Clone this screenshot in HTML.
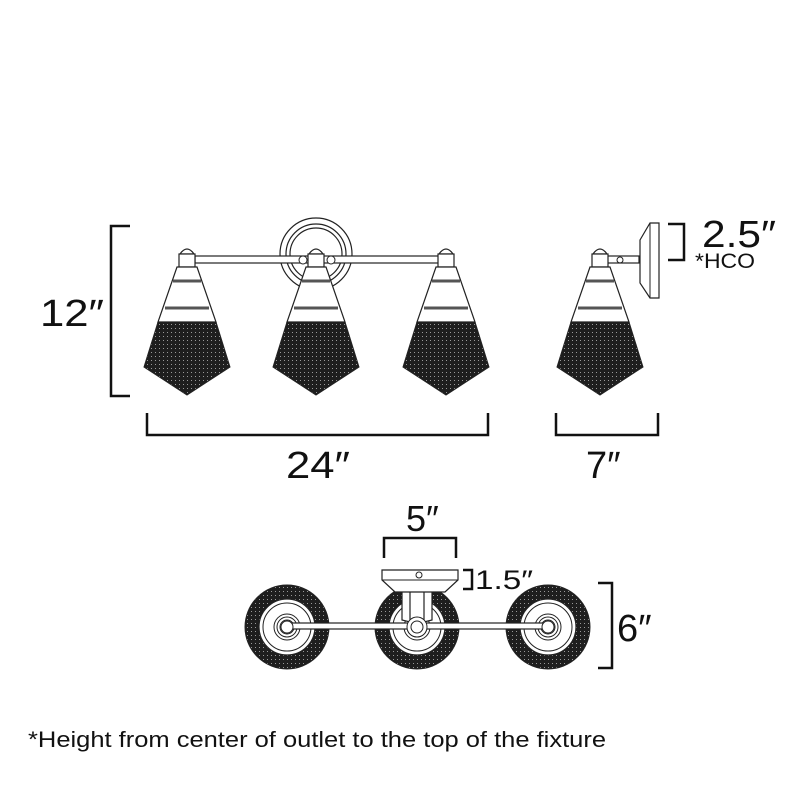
<!DOCTYPE html>
<html><head><meta charset="utf-8"><style>html,body{margin:0;padding:0;background:#fff}svg{display:block}</style></head>
<body>
<svg width="800" height="800" viewBox="0 0 800 800" xmlns="http://www.w3.org/2000/svg" font-family="Liberation Sans, sans-serif" fill="none" stroke="#222">
<defs>
<pattern id="mesh" width="4" height="4" patternUnits="userSpaceOnUse"><rect width="4" height="4" fill="#1e1e1e" stroke="none"/><rect x="0" y="0" width="1" height="1" fill="#999" stroke="none"/></pattern>
<g id="shade">
<path d="M-7,254 Q0,244 7,254 Z" fill="#fff" stroke-width="1.2"/>
<rect x="-8" y="254" width="16" height="13" fill="#fff" stroke-width="1.2"/>
<path d="M-10,267 L10,267 L29,322 L-29,322 Z" fill="#fff" stroke-width="1.2"/>
<line x1="-14" y1="281" x2="14" y2="281" stroke-width="3" stroke="#555"/>
<line x1="-22" y1="308" x2="22" y2="308" stroke-width="3" stroke="#555"/>
<path d="M-29,322 L29,322 L43,367 L0,395 L-43,367 Z" fill="url(#mesh)" stroke-width="1"/>
</g>
<g id="disc">
<circle r="42" fill="url(#mesh)" stroke-width="1"/>
<circle r="28" fill="#fff" stroke-width="1.2"/>
<circle r="24" stroke-width="1"/>
<circle r="13" stroke-width="1"/>
<circle r="10" stroke-width="1"/>
<circle r="7" fill="#fff" stroke-width="1"/>
</g>
</defs>
<circle cx="316" cy="254" r="36" fill="#fff" stroke-width="1.2"/>
<circle cx="316" cy="254" r="30" stroke-width="1.2"/>
<circle cx="316" cy="254" r="26" stroke-width="1.2"/>
<rect x="195" y="256" width="245" height="7" fill="#fff" stroke-width="1.2"/>
<circle cx="303" cy="260" r="4" fill="#fff" stroke-width="1"/>
<circle cx="331" cy="260" r="4" fill="#fff" stroke-width="1"/>
<use href="#shade" x="187"/>
<use href="#shade" x="316"/>
<use href="#shade" x="446"/>
<rect x="607" y="256" width="32" height="7" fill="#fff" stroke-width="1.2"/>
<circle cx="620" cy="260" r="3" stroke-width="1"/>
<path d="M640,240 L650,223 L659,223 L659,298 L650,298 L640,283 Z" fill="#fff" stroke-width="1.2"/>
<line x1="650" y1="223" x2="650" y2="298" stroke-width="1"/>
<use href="#shade" x="600"/>
<g stroke="#111" stroke-width="2.5">
<polyline points="130,226 111,226 111,396 130,396"/>
<polyline points="147,413 147,435 488,435 488,413"/>
<polyline points="556,413 556,435 658,435 658,413"/>
<polyline points="668,224 684,224 684,260 668,260"/>
<polyline points="384,558 384,538 456,538 456,558"/>
<polyline points="463,570 472,570 472,589 463,589"/>
<polyline points="598,583 612,583 612,668 598,668"/>
</g>
<g fill="#111" stroke="none">
<text x="40" y="326" font-size="38" textLength="64" lengthAdjust="spacingAndGlyphs">12″</text>
<text x="286" y="478" font-size="38" textLength="64" lengthAdjust="spacingAndGlyphs">24″</text>
<text x="586" y="478" font-size="38">7″</text>
<text x="702" y="247" font-size="38" textLength="74" lengthAdjust="spacingAndGlyphs">2.5″</text>
<text x="695" y="268" font-size="21" textLength="60" lengthAdjust="spacingAndGlyphs">*HCO</text>
<text x="406" y="531" font-size="36">5″</text>
<text x="475" y="589" font-size="27" textLength="58" lengthAdjust="spacingAndGlyphs">1.5″</text>
<text x="617" y="641" font-size="38">6″</text>
<text x="28" y="747" font-size="22" textLength="578" lengthAdjust="spacingAndGlyphs">*Height from center of outlet to the top of the fixture</text>
</g>
<use href="#disc" x="287" y="627"/>
<use href="#disc" x="417" y="627"/>
<use href="#disc" x="548" y="627"/>
<rect x="290" y="623" width="256" height="6" fill="#fff" stroke-width="1.2"/>
<circle cx="287" cy="627" r="6" fill="#fff" stroke-width="1"/>
<circle cx="548" cy="627" r="6" fill="#fff" stroke-width="1"/>
<rect x="402" y="590" width="30" height="30" fill="#fff" stroke="none"/>
<path d="M402,590 L402,620 L410,622 L410,590 M432,590 L432,620 L424,622 L424,590" fill="#fff" stroke-width="1.2"/>
<circle cx="417" cy="627" r="10" fill="#fff" stroke-width="1"/>
<circle cx="417" cy="627" r="6" fill="#fff" stroke-width="1"/>
<path d="M382,570 L458,570 L458,580 L445,592 L395,592 L382,580 Z" fill="#fff" stroke-width="1.2"/>
<line x1="382" y1="580" x2="458" y2="580" stroke-width="1"/>
<circle cx="419" cy="575" r="3" stroke-width="1"/>
</svg>
</body></html>
